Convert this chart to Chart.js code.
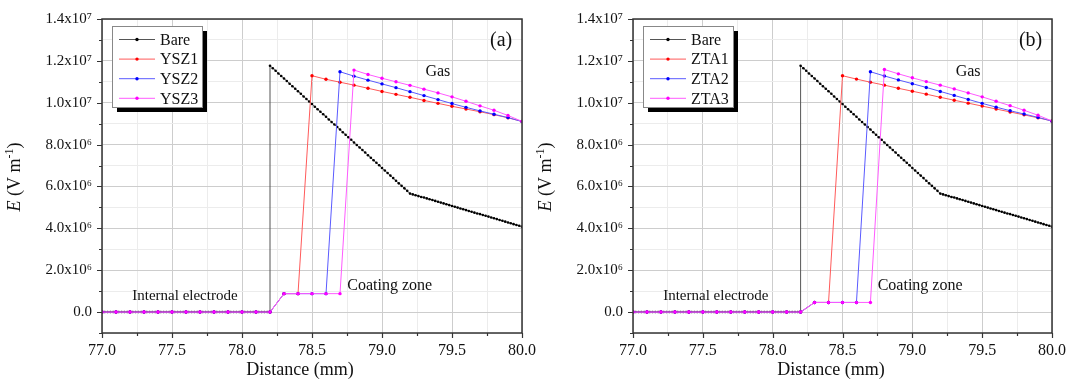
<!DOCTYPE html>
<html><head><meta charset="utf-8">
<script src="https://cdn.jsdelivr.net/npm/chart.js@4.4.0/dist/chart.umd.min.js"></script>
<style>
html,body{margin:0;padding:0;background:#fff;}
body{width:1067px;height:380px;position:relative;overflow:hidden;}
canvas{position:absolute;top:0;}
#cA{left:0;} #cB{left:531px;}
</style></head><body>
<canvas id="cA" width="545" height="380" style="width:545px;height:380px"></canvas>
<canvas id="cB" width="536" height="380" style="width:536px;height:380px"></canvas>
<script>
// ---- data (E values stored in units of 10^6 V m^-1) ----
const SCALE = 1e6;

const bareX = [
77.00,77.02,77.04,77.06,77.08,77.10,77.12,77.14,77.16,77.18,77.20,77.22,77.24,77.26,77.28,77.30,
77.32,77.34,77.36,77.38,77.40,77.42,77.44,77.46,77.48,77.50,77.52,77.54,77.56,77.58,77.60,77.62,
77.64,77.66,77.68,77.70,77.72,77.74,77.76,77.78,77.80,77.82,77.84,77.86,77.88,77.90,77.92,77.94,
77.96,77.98,78.00,78.02,78.04,78.06,78.08,78.10,78.12,78.14,78.16,78.18,78.20,
78.20,78.22,78.24,78.26,78.28,78.30,78.32,78.34,78.36,78.38,78.40,78.42,78.44,78.46,78.48,78.50,
78.52,78.54,78.56,78.58,78.60,78.62,78.64,78.66,78.68,78.70,78.72,78.74,78.76,78.78,78.80,78.82,
78.84,78.86,78.88,78.90,78.92,78.94,78.96,78.98,79.00,79.02,79.04,79.06,79.08,79.10,79.12,79.14,
79.16,79.18,79.20,79.22,79.24,79.26,79.28,79.30,79.32,79.34,79.36,79.38,79.40,79.42,79.44,79.46,
79.48,79.50,79.52,79.54,79.56,79.58,79.60,79.62,79.64,79.66,79.68,79.70,79.72,79.74,79.76,79.78,
79.80,79.82,79.84,79.86,79.88,79.90,79.92,79.94,79.96,79.98,80.00];

const bareE = [
0,0,0,0,0,0,0,0,0,0,0,0,0,0,0,0,0,0,0,0,0,0,0,0,0,0,0,0,0,0,0,
0,0,0,0,0,0,0,0,0,0,0,0,0,0,0,0,0,0,0,0,0,0,0,0,0,0,0,0,0,0,
11.77,11.65,11.53,11.40,11.28,11.16,11.04,10.91,10.79,10.67,10.55,10.43,10.30,10.18,10.06,9.94,
9.81,9.69,9.57,9.45,9.33,9.20,9.08,8.96,8.84,8.72,8.59,8.47,8.35,8.23,8.10,7.98,
7.86,7.74,7.62,7.49,7.37,7.25,7.13,7.01,6.88,6.76,6.64,6.52,6.40,6.27,6.15,6.03,
5.91,5.79,5.66,5.62,5.58,5.54,5.50,5.47,5.43,5.39,5.35,5.31,5.27,5.23,5.19,5.15,
5.11,5.07,5.03,4.99,4.95,4.91,4.87,4.83,4.79,4.75,4.71,4.68,4.64,4.60,4.56,4.52,
4.48,4.44,4.40,4.36,4.32,4.28,4.24,4.20,4.16,4.12,4.08];

const coatX = [77.0,77.1,77.2,77.3,77.4,77.5,77.6,77.7,77.8,77.9,78.0,78.1,78.2,
78.3,78.4,78.5,78.6,78.7,78.8,78.9,79.0,79.1,79.2,79.3,79.4,79.5,79.6,79.7,79.8,79.9,80.0];

const ysz1 = [0,0,0,0,0,0,0,0,0,0,0,0,0, 0.88,0.88,
11.29,11.12,10.98,10.84,10.69,10.54,10.40,10.26,10.11,9.97,9.83,9.70,9.57,9.43,9.28,9.11];
const ysz2 = [0,0,0,0,0,0,0,0,0,0,0,0,0, 0.88,0.88,0.88,0.88,
11.48,11.27,11.08,10.90,10.72,10.53,10.34,10.15,9.96,9.78,9.61,9.45,9.29,9.10];
const ysz3 = [0,0,0,0,0,0,0,0,0,0,0,0,0, 0.88,0.88,0.88,0.88,0.88,
11.56,11.35,11.17,11.00,10.83,10.65,10.47,10.28,10.07,9.85,9.64,9.39,9.11];

const zta1 = [0,0,0,0,0,0,0,0,0,0,0,0,0, 0.46,0.46,
11.29,11.13,10.98,10.84,10.69,10.55,10.41,10.26,10.12,9.98,9.84,9.70,9.56,9.42,9.28,9.13];
const zta2 = [0,0,0,0,0,0,0,0,0,0,0,0,0, 0.46,0.46,0.46,0.46,
11.48,11.28,11.09,10.91,10.73,10.54,10.35,10.16,9.97,9.79,9.62,9.46,9.30,9.12];
const zta3 = [0,0,0,0,0,0,0,0,0,0,0,0,0, 0.46,0.46,0.46,0.46,0.46,
11.59,11.38,11.19,11.01,10.84,10.66,10.47,10.28,10.07,9.86,9.64,9.40,9.13];

const namesA = ['Bare','YSZ1','YSZ2','YSZ3'];
const namesB = ['Bare','ZTA1','ZTA2','ZTA3'];

const xTickValues = [77.0,77.5,78.0,78.5,79.0,79.5,80.0];
const xTickLabels = ['77.0','77.5','78.0','78.5','79.0','79.5','80.0'];
const yTickValues = [0,2e6,4e6,6e6,8e6,1e7,1.2e7,1.4e7];
const yTickLabels = ['0.0','2.0x10\u2076','4.0x10\u2076','6.0x10\u2076','8.0x10\u2076','1.0x10\u2077','1.2x10\u2077','1.4x10\u2077'];

// ---- styles ----
const SERIF = '"Liberation Serif","Times New Roman",serif';
const lineColors  = ['#555555','#ff5a5a','#5a5aff','#ff5aff'];
const pointColors = ['#000000','#ff0000','#0000ff','#ff00ff'];
const pointRadii  = [1.3,1.7,1.7,1.7];

function pts(xs, ys){ return xs.map((x,i)=>({x:x, y:ys[i]*SCALE})); }
function near(a,b,eps){ return Math.abs(a-b) < eps; }
function isMajorX(v){ return xTickValues.some(t=>near(t,v,1e-6)); }
function isMajorY(v){ return yTickValues.some(t=>near(t,v,1)); }

const overlay = {
  id:'overlay',
  afterDraw(chart, args, opts){
    const ctx = chart.ctx, ca = chart.chartArea;
    const xs = chart.scales.x, ys = chart.scales.y;
    ctx.save();
    // frame
    ctx.strokeStyle = '#333'; ctx.lineWidth = 1.5;
    ctx.strokeRect(ca.left, ca.top, ca.right-ca.left, ca.bottom-ca.top);
    // ticks
    ctx.lineWidth = 1.2;
    ctx.beginPath();
    xs.ticks.forEach(t=>{
      const px = Math.round(xs.getPixelForValue(t.value))+0.5;
      const len = isMajorX(t.value) ? 5 : 3;
      ctx.moveTo(px, ca.bottom); ctx.lineTo(px, ca.bottom+len);
    });
    ys.ticks.forEach(t=>{
      const py = Math.round(ys.getPixelForValue(t.value))+0.5;
      const len = isMajorY(t.value) ? 5 : 3;
      ctx.moveTo(ca.left, py); ctx.lineTo(ca.left-len, py);
    });
    ctx.stroke();

    // legend with shadow
    const bx = ca.left+10, by = ca.top+7, bw = 90, bh = 81;
    ctx.fillStyle = '#000'; ctx.fillRect(bx+5, by+5, bw, bh);
    ctx.fillStyle = '#fff'; ctx.fillRect(bx, by, bw, bh);
    ctx.strokeStyle = '#888'; ctx.lineWidth = 1; ctx.strokeRect(bx+0.5, by+0.5, bw, bh);
    chart.data.datasets.forEach((ds,i)=>{
      const ry = by + 13.5 + i*19.6;
      ctx.strokeStyle = ds.borderColor; ctx.lineWidth = 1;
      ctx.beginPath(); ctx.moveTo(bx+7, ry); ctx.lineTo(bx+43, ry); ctx.stroke();
      ctx.fillStyle = ds.pointBackgroundColor;
      ctx.beginPath(); ctx.arc(bx+25, ry, 1.7, 0, Math.PI*2); ctx.fill();
      ctx.fillStyle = '#111'; ctx.font = '16px '+SERIF;
      ctx.textAlign = 'left'; ctx.textBaseline = 'middle';
      ctx.fillText(ds.label, bx+48, ry+1);
    });

    // annotations (data coordinates)
    ctx.fillStyle = '#111'; ctx.textBaseline = 'middle';
    opts.notes.forEach(n=>{
      ctx.font = n.size+'px '+SERIF;
      ctx.textAlign = n.align;
      ctx.fillText(n.text, xs.getPixelForValue(n.x), ys.getPixelForValue(n.y));
    });

    // x axis title
    ctx.font = '18px '+SERIF; ctx.textAlign = 'center';
    ctx.fillText('Distance (mm)', ca.left+198, 370);

    // y axis title: E (V m^-1), E italic
    ctx.translate(14, 177); ctx.rotate(-Math.PI/2);
    const parts = [
      {t:'E', f:'italic 18px '+SERIF, dy:0},
      {t:' (V m', f:'18px '+SERIF, dy:0},
      {t:'-1', f:'12px '+SERIF, dy:-7},
      {t:')', f:'18px '+SERIF, dy:0}
    ];
    let w = 0;
    parts.forEach(p=>{ ctx.font = p.f; p.w = ctx.measureText(p.t).width; w += p.w; });
    let cx = -w/2;
    ctx.textAlign = 'left'; ctx.textBaseline = 'alphabetic';
    parts.forEach(p=>{ ctx.font = p.f; ctx.fillText(p.t, cx, 6+p.dy); cx += p.w; });
    ctx.restore();
  }
};

function makeChart(id, names, series, tag, rightPad){
  const xsArr = [bareX, coatX, coatX, coatX];
  const datasets = series.map((s,i)=>({
    label: names[i],
    data: pts(xsArr[i], s),
    showLine: true,
    borderColor: lineColors[i],
    backgroundColor: pointColors[i],
    pointBackgroundColor: pointColors[i],
    pointBorderWidth: 0,
    pointRadius: pointRadii[i],
    pointHoverRadius: 0,
    borderWidth: 1,
    tension: 0,
    order: 3-i
  }));
  return new Chart(document.getElementById(id), {
    type: 'scatter',
    data: { datasets },
    plugins: [overlay],
    options: {
      responsive: false, animation: false, devicePixelRatio: 1, events: [],
      layout: { padding: { top: 19, bottom: 0, left: 0, right: rightPad } },
      plugins: {
        legend: { display: false }, tooltip: { enabled: false },
        overlay: { notes: [
          { text: tag, x: 79.93, y: 12.95e6, size: 20, align: 'right' },
          { text: 'Gas', x: 79.31, y: 11.46e6, size: 16, align: 'left' },
          { text: 'Internal electrode', x: 77.216, y: 0.77e6, size: 15, align: 'left' },
          { text: 'Coating zone', x: 78.752, y: 1.25e6, size: 16, align: 'left' }
        ] }
      },
      scales: {
        x: {
          type: 'linear', min: 77, max: 80,
          afterFit(s){ s.height = 47; s.paddingLeft = 0; s.paddingRight = 0; },
          ticks: {
            stepSize: 0.25, autoSkip: false, maxRotation: 0, padding: 8,
            color: '#111', font: { family: SERIF, size: 16 },
            callback(v){ const i = xTickValues.findIndex(t=>near(t,v,1e-6)); return i>=0 ? xTickLabels[i] : ''; }
          },
          grid: {
            drawTicks: false, lineWidth: 1,
            color: c => (c.tick && isMajorX(c.tick.value)) ? '#cdcdcd' : '#ececec'
          },
          border: { display: false }
        },
        y: {
          type: 'linear', min: -1e6, max: 1.4e7,
          afterFit(s){ s.width = 102; s.paddingTop = 0; s.paddingBottom = 0; },
          ticks: {
            stepSize: 1e6, autoSkip: false, padding: 10,
            color: '#111', font: { family: SERIF, size: 15 },
            callback(v){ const i = yTickValues.findIndex(t=>near(t,v,1)); return i>=0 ? yTickLabels[i] : ''; }
          },
          grid: {
            drawTicks: false, lineWidth: 1,
            color: c => (c.tick && isMajorY(c.tick.value)) ? '#cdcdcd' : '#ececec'
          },
          border: { display: false }
        }
      }
    }
  });
}

makeChart('cA', namesA, [bareE, ysz1, ysz2, ysz3], '(a)', 23);
makeChart('cB', namesB, [bareE, zta1, zta2, zta3], '(b)', 15);
</script>
</body></html>
